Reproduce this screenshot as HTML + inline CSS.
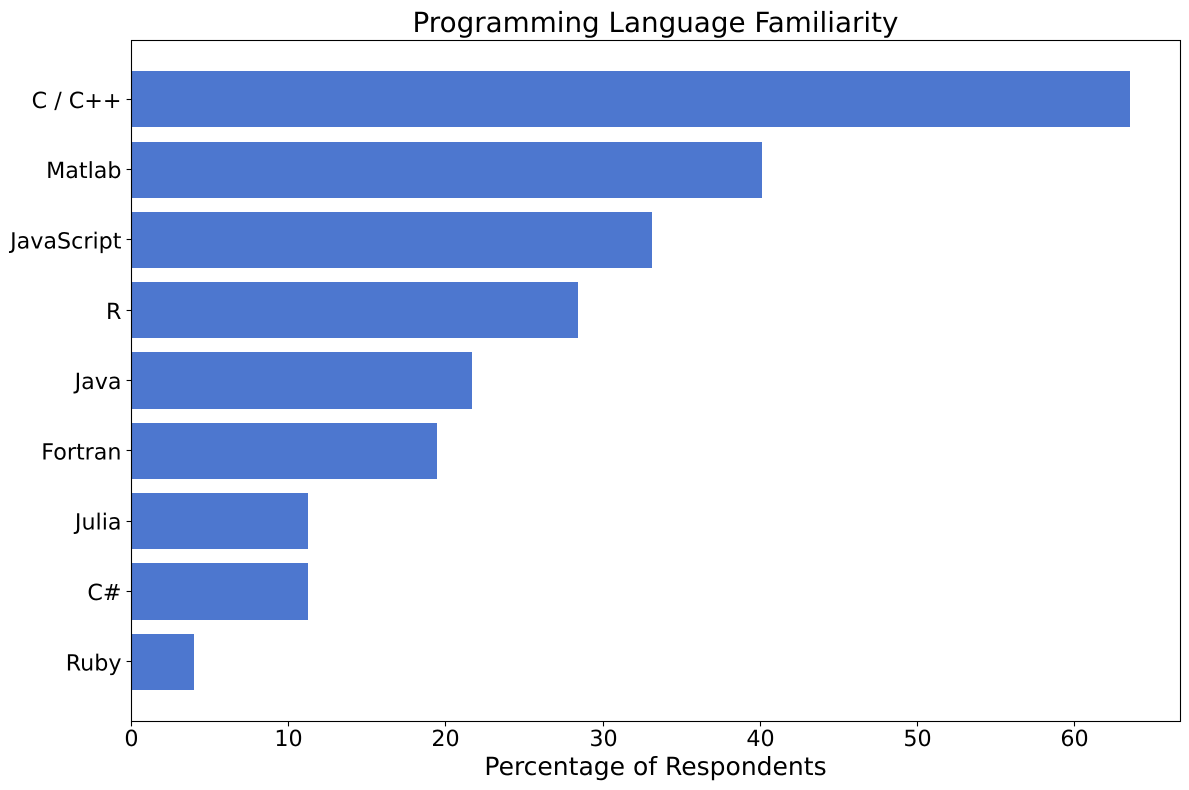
<!DOCTYPE html>
<html>
<head>
<meta charset="utf-8">
<style>
html,body{margin:0;padding:0;background:#fff;}
svg{display:block;}
text{font-family:"DejaVu Sans",sans-serif;fill:#000;text-rendering:geometricPrecision;}
</style>
</head>
<body>
<svg id="chart" width="1189" height="790" viewBox="0 0 1189 790" xmlns="http://www.w3.org/2000/svg">
<text x="655.5" y="32" font-size="27.78" text-anchor="middle">Programming Language Familiarity</text>
<g id="bars"></g>
<g id="yticks"></g>
<g id="xticks"></g>
<rect x="131.5" y="40.5" width="1049" height="681" fill="none" stroke="#000" stroke-width="1.1"/>
<text x="655.5" y="775" font-size="25" text-anchor="middle">Percentage of Respondents</text>
</svg>
<script>
const categories = ["C / C++","Matlab","JavaScript","R","Java","Fortran","Julia","C#","Ruby"];
const seriesValues = [63.5,40.1,33.1,28.4,21.65,19.45,11.25,11.25,3.98];
const xTickLabels = [0,10,20,30,40,50,60];

const NS = "http://www.w3.org/2000/svg";
const plotLeft = 131.5, pxPerUnit = 15.72;
const firstCenter = 99.38, bandStep = 70.3, barHeight = 56.22;
const xScale = v => plotLeft + v * pxPerUnit;
const yScale = i => firstCenter + i * bandStep;

const barsG = document.getElementById("bars");
const yG = document.getElementById("yticks");
const xG = document.getElementById("xticks");

function mk(tag, attrs, parent){
  const el = document.createElementNS(NS, tag);
  for (const k in attrs) el.setAttribute(k, attrs[k]);
  parent.appendChild(el);
  return el;
}

categories.forEach((cat, i) => {
  const c = yScale(i);
  const top = Math.round(c - barHeight / 2);
  const bottom = Math.round(c + barHeight / 2);
  const left = Math.floor(plotLeft);
  const right = Math.round(xScale(seriesValues[i]));
  const bar = mk("rect", {x: left, y: top, width: right - left, height: bottom - top, fill: "#4d77cf"}, barsG);
  
  
  const tickY = Math.floor(c) + 0.5;
  const tick = mk("line", {x1: plotLeft - 4.9, x2: plotLeft, y1: tickY, y2: tickY, stroke: "#000", "stroke-width": 1.1}, yG);
  
  
  const label = mk("text", {x: 121.5, y: c + 8.5, "font-size": 22.22, "text-anchor": "end"}, yG);
  
  
  label.textContent = cat;
});

xTickLabels.forEach(t => {
  const x = Math.floor(xScale(t)) + 0.5;
  const tick = mk("line", {x1: x, x2: x, y1: 721.5, y2: 726.4, stroke: "#000", "stroke-width": 1.1}, xG);
  
  
  const label = mk("text", {x: x, y: 746, "font-size": 22.22, "text-anchor": "middle"}, xG);
  
  
  label.textContent = t;
});
</script>
</body>
</html>
